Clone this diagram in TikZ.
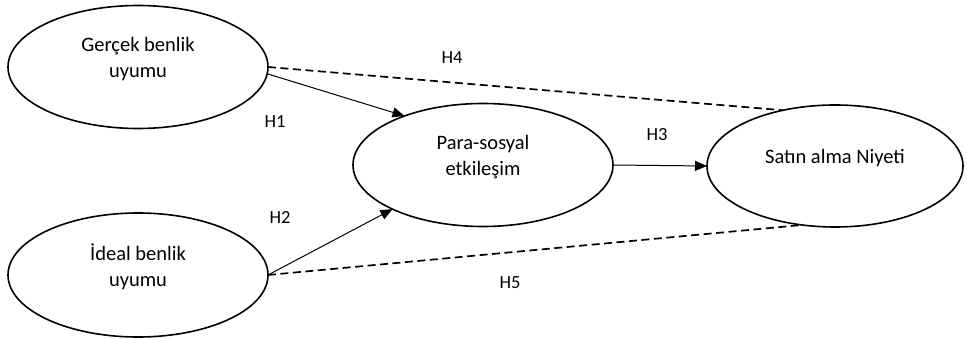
\documentclass[tikz,border=0pt]{standalone}
\usepackage{fontspec}
\setmainfont{Carlito}
\usetikzlibrary{shapes.geometric,arrows.meta}
\begin{document}
\begin{tikzpicture}[x=1pt,y=-1pt,
 oval/.style={ellipse, draw=black, line width=1.6pt, minimum width=260pt, minimum height=123pt, inner sep=0pt, outer sep=0pt},
 txt/.style={font=\fontsize{20.5}{26}\selectfont, align=center, text=black},
 hlab/.style={font=\fontsize{18.5}{22}\selectfont, text=black},
 arr/.style={line width=1pt, -{Triangle[length=12pt,width=10pt]}},
 dsh/.style={line width=1.7pt, dash pattern=on 8pt off 4.5pt}]
\useasboundingbox[fill=white] (0,0) rectangle (967,339);
\node[oval] (e1) at (138,67) {};
\node[oval, minimum height=124pt] (e2) at (138,275) {};
\node[oval] (e3) at (483,165) {};
\node[oval, minimum width=256pt, minimum height=122pt] (e4) at (835,166) {};
\node[txt] (t1) at ([yshift=8pt]e1.center) {Gerçek benlik\\uyumu};
\node[txt] (t2) at ([yshift=8pt]e2.center) {İdeal benlik\\uyumu};
\node[txt] (t3) at ([yshift=8pt]e3.center) {Para-sosyal\\etkileşim};
\node[txt] (t4) at ([yshift=8pt]e4.center) {Satın alma Niyeti};
\draw[dsh] (e1.east) -- (e4.133);
\draw[dsh] (e2.east) -- (e4.241);
\draw[arr] (e1.-3) -- (e3.148);
\draw[arr] (e2.east) -- (e3.206);
\draw[arr] (e3.east) -- (e4.west);
\node[hlab] (h1) at (275,122) {H1};
\node[hlab] (h2) at (280,217) {H2};
\node[hlab] (h3) at (657,135) {H3};
\node[hlab] (h4) at (452,58) {H4};
\node[hlab] (h5) at (510,283) {H5};
\end{tikzpicture}
\end{document}
